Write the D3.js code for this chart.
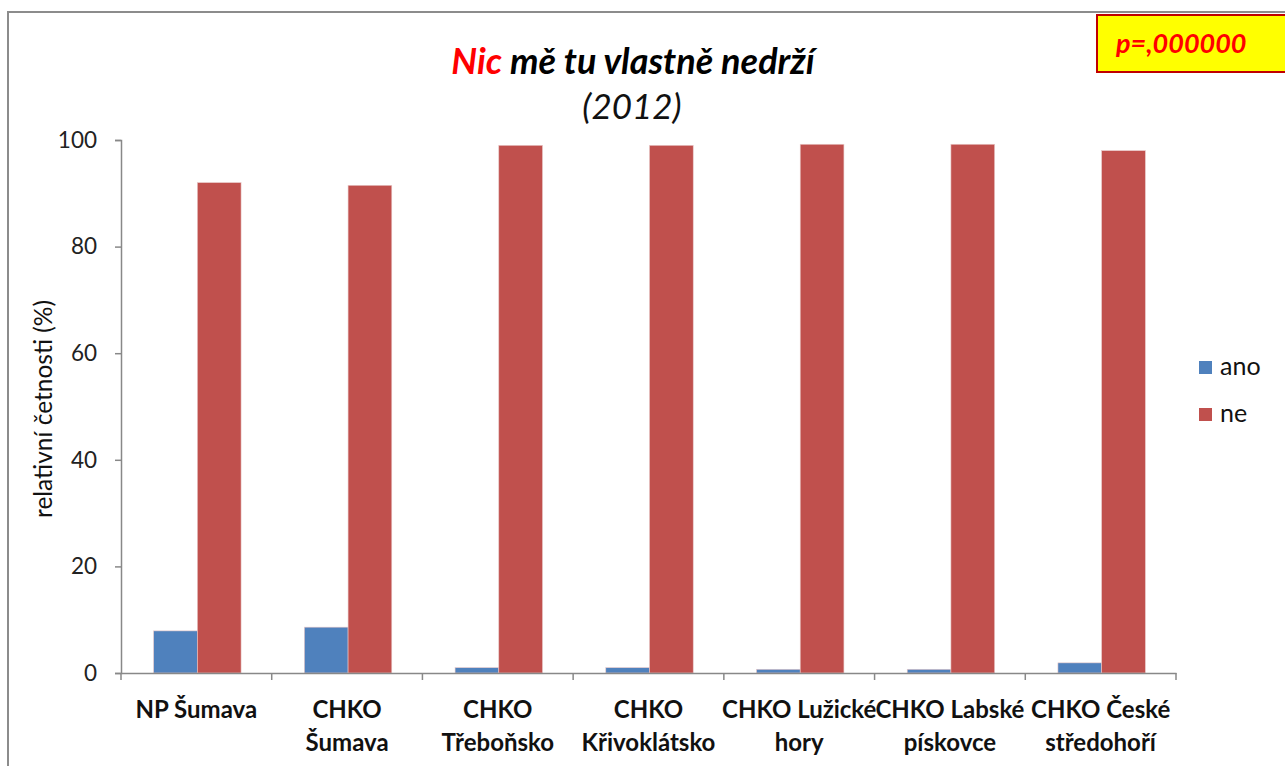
<!DOCTYPE html>
<html><head><meta charset="utf-8">
<script src="https://cdn.jsdelivr.net/npm/d3@7"></script>
<style>
body{margin:0;background:#fff;}
svg{display:block;font-family:Lato,"Open Sans",sans-serif;}
</style></head>
<body>
<svg id="chart" width="1285" height="766"></svg>
<script>
const categories = [["NP Šumava"],["CHKO","Šumava"],["CHKO","Třeboňsko"],["CHKO","Křivoklátsko"],["CHKO Lužické","hory"],["CHKO Labské","pískovce"],["CHKO České","středohoří"]];
const catKeys = categories.map(d=>d.join(" "));
const seriesNames = ["ano","ne"];
const ano = [7.9, 8.6, 1.0, 1.0, 0.7, 0.7, 1.9];
const ne = [92.0, 91.5, 99.0, 99.0, 99.2, 99.2, 98.0];
const yTicks = [0,20,40,60,80,100];
const colors = ["#4F81BD","#C0504D"];

(function(){
const svg = d3.select("#chart");
svg.append("rect").attr("x",8).attr("y",12).attr("width",1290).attr("height",770)
  .attr("fill","none").attr("stroke","#8c8c8c").attr("stroke-width",2);

const pLeft=121, pRight=1176, pTop=140, pBottom=673;
const x0 = d3.scaleBand().domain(catKeys).range([pLeft,pRight]).padding(0);
const groupW = x0.bandwidth()*0.58;
const x1 = d3.scaleBand().domain(seriesNames).range([0,groupW]).padding(0);
const y = d3.scaleLinear().domain([0,100]).range([pBottom,pTop]);

const data = catKeys.map((k,i)=>({k, vals:[ano[i],ne[i]]}));
const g = svg.append("g");
data.forEach(d=>{
  d.vals.forEach((v,j)=>{
    g.append("rect")
      .attr("x", x0(d.k)+(x0.bandwidth()-groupW)/2 + 1 + x1(seriesNames[j]))
      .attr("y", y(v)).attr("width", x1.bandwidth()).attr("height", y(0)-y(v))
      .attr("fill", colors[j]).attr("stroke","#e8c8c8").attr("stroke-width",0.6);
  });
});

const yAxis = svg.append("g").attr("transform",`translate(${pLeft},0)`)
  .call(d3.axisLeft(y).tickValues(yTicks).tickSize(6).tickPadding(18).tickFormat(d3.format("d")));
yAxis.select(".domain").attr("stroke","#888").attr("stroke-width",1.5);
yAxis.selectAll(".tick line").attr("stroke","#888").attr("stroke-width",1.5);
yAxis.selectAll(".tick text").attr("font-size",22.5).attr("fill","#222").attr("font-family","Lato,'Open Sans',sans-serif");

const xAxis = svg.append("g").attr("transform",`translate(0,${pBottom})`)
  .call(d3.axisBottom(x0).tickSize(0).tickFormat(""));
xAxis.select(".domain").attr("stroke","#888").attr("stroke-width",1.5);
const bounds = catKeys.map(k=>x0(k)).concat([x0.range()[1]]);
svg.append("g").selectAll("line").data(bounds).join("line")
  .attr("x1",d=>d).attr("x2",d=>d).attr("y1",pBottom).attr("y2",pBottom+7)
  .attr("stroke","#888").attr("stroke-width",1.5);
categories.forEach((lines,i)=>{
  const cx = x0(catKeys[i]) + x0.bandwidth()/2;
  const t = svg.append("text").attr("x",cx).attr("y",718).attr("text-anchor","middle")
    .attr("font-size",24).attr("font-weight","bold").attr("fill","#111");
  lines.forEach((l,j)=>t.append("tspan").attr("x",cx).attr("dy", j===0?0:33).text(l));
});

svg.append("text").attr("transform","translate(52,409) rotate(-90)").attr("text-anchor","middle")
  .attr("font-size",24.5).attr("fill","#111").text("relativní četnosti (%)");

const title = svg.append("text").attr("x",633).attr("y",74).attr("text-anchor","middle")
  .attr("font-size",36).attr("font-weight","bold").attr("font-style","italic").attr("fill","#000");
title.append("tspan").attr("fill","#ff0000").text("Nic");
title.append("tspan").text(" mě tu vlastně nedrží");
svg.append("text").attr("x",632).attr("y",119).attr("text-anchor","middle")
  .attr("font-size",35).attr("font-style","italic").attr("fill","#111").text("(2012)");

const leg = svg.append("g");
seriesNames.forEach((s,i)=>{
  const yy = 361 + i*47;
  leg.append("rect").attr("x",1199).attr("y",yy).attr("width",13).attr("height",13).attr("fill",colors[i]);
  leg.append("text").attr("x",1220).attr("y",yy+14).attr("font-size",25).attr("fill","#111").text(s);
});

svg.append("rect").attr("x",1097).attr("y",15).attr("width",200).attr("height",57)
  .attr("fill","#ffff00").attr("stroke","#c00000").attr("stroke-width",2);
svg.append("text").attr("x",1116).attr("y",53).attr("font-size",27).attr("font-weight","bold")
  .attr("font-style","italic").attr("fill","#ff0000").text("p=,000000");
})();
</script>
</body></html>
